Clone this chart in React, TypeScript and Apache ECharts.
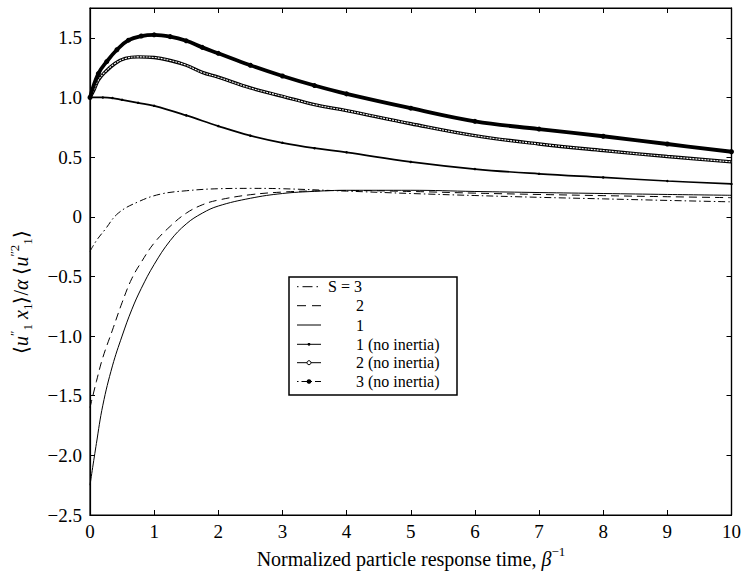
import React, { useEffect, useRef } from "react";
import * as echarts from "echarts";

// ---- data ----
const s3X = [0, 0.1, 0.23, 0.44, 0.75, 1.1, 1.5, 2.0, 2.5, 3.0, 4.0, 5.0, 6.0, 7.0, 8.0, 9.0, 10];
const s3Y = [-0.29, -0.2, -0.11, 0.03, 0.125, 0.19, 0.218, 0.235, 0.238, 0.235, 0.215, 0.195, 0.178, 0.163, 0.15, 0.137, 0.125];

const s2X = [0, 0.1, 0.2, 0.35, 0.5, 0.65, 0.8, 1.0, 1.25, 1.5, 1.75, 2.0, 2.5, 3.0, 3.5, 4.0, 5.0, 6.0, 7.0, 8.0, 9.0, 10];
const s2Y = [-1.6, -1.38, -1.18, -0.95, -0.72, -0.52, -0.38, -0.22, -0.08, 0.03, 0.1, 0.14, 0.185, 0.207, 0.217, 0.22, 0.212, 0.198, 0.187, 0.177, 0.168, 0.16];

const s1X = [0, 0.1, 0.2, 0.35, 0.5, 0.65, 0.8, 1.0, 1.25, 1.5, 1.75, 2.0, 2.5, 3.0, 3.5, 4.0, 5.0, 6.0, 7.0, 8.0, 9.0, 10];
const s1Y = [-2.25, -1.9, -1.58, -1.25, -1.0, -0.78, -0.6, -0.4, -0.2, -0.06, 0.03, 0.09, 0.155, 0.195, 0.213, 0.222, 0.222, 0.212, 0.203, 0.195, 0.187, 0.18];

const ni1X = [0, 0.2, 0.35, 0.5, 0.75, 1.0, 1.5, 2.0, 2.5, 3.0, 3.5, 4.0, 5.0, 6.0, 7.0, 8.0, 9.0, 10];
const ni1Y = [1.0, 1.0, 0.995, 0.98, 0.955, 0.93, 0.85, 0.76, 0.68, 0.62, 0.575, 0.54, 0.46, 0.4, 0.36, 0.33, 0.3, 0.275];

const ni2X = [0, 0.06, 0.13, 0.23, 0.39, 0.55, 0.75, 1.0, 1.25, 1.5, 1.75, 2.0, 2.5, 3.0, 3.5, 4.0, 5.0, 6.0, 7.0, 8.0, 9.0, 10];
const ni2Y = [1.0, 1.06, 1.145, 1.21, 1.285, 1.327, 1.34, 1.335, 1.31, 1.27, 1.21, 1.17, 1.08, 1.01, 0.94, 0.89, 0.78, 0.68, 0.61, 0.555, 0.505, 0.46];

const ni3X = [0, 0.13, 0.26, 0.42, 0.6, 0.8, 1.0, 1.25, 1.5, 1.75, 2.0, 2.5, 3.0, 3.5, 4.0, 5.0, 6.0, 7.0, 8.0, 9.0, 10];
const ni3Y = [1.0, 1.2, 1.3, 1.4, 1.48, 1.515, 1.525, 1.51, 1.475, 1.42, 1.37, 1.27, 1.18, 1.1, 1.03, 0.91, 0.8, 0.735, 0.675, 0.61, 0.545];

const legendLabels = ["S = 3", "2", "1", "1 (no inertia)", "2 (no inertia)", "3 (no inertia)"];
const xTitle = "Normalized particle response time, ";

const zip = (xs: number[], ys: number[]) => xs.map((x, i) => [x, ys[i]]);

const FONT = "Liberation Serif";

export default function App() {
  const ref = useRef<HTMLDivElement>(null);
  useEffect(() => {
    if (!ref.current) return;
    const chart = echarts.init(ref.current, undefined, { renderer: "svg" });

    const axisCommon = {
      type: "value" as const,
      axisLine: { show: true, onZero: false, lineStyle: { color: "#000", width: 1.2 } },
      axisTick: { show: true, inside: true, length: 5, lineStyle: { color: "#000", width: 1 } },
      splitLine: { show: false },
    };

    const base = (name: string, data: number[][]) => ({
      name,
      type: "line" as const,
      data,
      smooth: 0.4,
      xAxisIndex: 0,
      yAxisIndex: 0,
      silent: true,
    });

    const rowsY = [286.7, 305.7, 325, 344.3, 362.7, 381.5];
    const lx0 = 297, lx1 = 321;
    const legendEls: any[] = [
      {
        type: "rect",
        shape: { x: 289, y: 277, width: 168, height: 118 },
        style: { fill: "#fff", stroke: "#000", lineWidth: 1.5 },
        z: 100,
      },
    ];
    const dashes: any[] = [[1.5, 4, 10, 4], [9, 6], null, null, null, [1.5, 3, 6, 3]];
    rowsY.forEach((y, i) => {
      legendEls.push({
        type: "line",
        shape: { x1: lx0, y1: y, x2: lx1, y2: y },
        style: { stroke: "#000", lineWidth: 1, lineDash: dashes[i] || undefined },
        z: 101,
      });
      if (i === 3) {
        legendEls.push({ type: "circle", shape: { cx: 309, cy: y, r: 1.4 }, style: { fill: "#000" }, z: 102 });
      }
      if (i === 4) {
        legendEls.push({ type: "circle", shape: { cx: 309, cy: y, r: 2 }, style: { fill: "#fff", stroke: "#000", lineWidth: 1 }, z: 102 });
      }
      if (i === 5) {
        legendEls.push({ type: "circle", shape: { cx: 309, cy: y, r: 2.3 }, style: { fill: "#000" }, z: 102 });
      }
      legendEls.push({
        type: "text",
        x: i === 0 ? 328 : 356,
        y,
        style: {
          text: legendLabels[i],
          fontFamily: FONT,
          fontSize: 16,
          fill: "#000",
          verticalAlign: "middle",
          align: "left",
        },
        z: 102,
      });
    });

    const option: any = {
      animation: false,
      backgroundColor: "#fff",
      textStyle: { fontFamily: FONT },
      grid: { left: 90, right: 12, top: 8, bottom: 61, show: true, borderColor: "#000", borderWidth: 1.2 },
      xAxis: [
        {
          ...axisCommon,
          min: 0,
          max: 10,
          interval: 1,
          position: "bottom",
          axisLabel: { color: "#000", fontFamily: FONT, fontSize: 19, margin: 7 },
        },
        {
          ...axisCommon,
          min: 0,
          max: 10,
          interval: 1,
          position: "top",
          axisLabel: { show: false },
        },
      ],
      yAxis: [
        {
          ...axisCommon,
          min: -2.5,
          max: 1.75,
          interval: 0.5,
          position: "left",
          axisLabel: {
            color: "#000",
            fontFamily: FONT,
            fontSize: 19,
            margin: 8,
            formatter: (v: number) =>
              Math.abs(v - 1.75) < 1e-6
                ? ""
                : Math.abs(v) < 1e-9
                ? "0"
                : (v < 0 ? "\u2212" : "") + Math.abs(v).toFixed(1),
          },
        },
        {
          ...axisCommon,
          min: -2.5,
          max: 1.75,
          interval: 0.5,
          position: "right",
          axisLabel: { show: false },
        },
      ],
      series: [
        {
          ...base("S = 3", zip(s3X, s3Y)),
          showSymbol: false,
          symbol: "none",
          lineStyle: { color: "#000", width: 1, type: [7, 3, 1.5, 3] },
        },
        {
          ...base("2", zip(s2X, s2Y)),
          showSymbol: false,
          symbol: "none",
          lineStyle: { color: "#000", width: 1, type: [8, 5] },
        },
        {
          ...base("1", zip(s1X, s1Y)),
          showSymbol: false,
          symbol: "none",
          lineStyle: { color: "#000", width: 1, type: "solid" },
        },
        {
          ...base("1 (no inertia)", zip(ni1X, ni1Y)),
          showSymbol: true,
          symbol: "circle",
          symbolSize: 2.5,
          itemStyle: { color: "#000" },
          lineStyle: { color: "#000", width: 1.7 },
        },
        {
          ...base("2 (no inertia)", zip(ni2X, ni2Y)),
          showSymbol: false,
          symbol: "none",
          lineStyle: { color: "#000", width: 3.4 },
        },
        {
          ...base("2 (no inertia) inner", zip(ni2X, ni2Y)),
          showSymbol: false,
          symbol: "none",
          lineStyle: { color: "#fff", width: 1.1, type: [2, 1] },
        },
        {
          ...base("3 (no inertia)", zip(ni3X, ni3Y)),
          showSymbol: true,
          symbol: "circle",
          symbolSize: 5,
          itemStyle: { color: "#000" },
          lineStyle: { color: "#000", width: 3.8 },
        },
      ],
      graphic: [
        ...legendEls,
        {
          type: "text",
          x: 411,
          y: 557,
          style: {
            text: `{n|${xTitle}}{i|β}{sp|−1}`,
            align: "center",
            verticalAlign: "middle",
            fill: "#000",
            rich: {
              n: { fontFamily: FONT, fontSize: 20, lineHeight: 24, verticalAlign: "bottom", color: "#000" },
              i: { fontFamily: FONT, fontSize: 20, fontStyle: "italic", lineHeight: 24, verticalAlign: "bottom", color: "#000" },
              sp: { fontFamily: FONT, fontSize: 13, lineHeight: 24, verticalAlign: "top", color: "#000" },
            },
          },
        },
        {
          type: "text",
          x: 21,
          y: 292,
          rotation: Math.PI / 2,
          style: {
            text: "{n|⟨}{i|u}{sp|″}{sb|1}{i| x}{sb|1}{n|⟩/}{i|α}{n| ⟨}{i|u}{sp|″2}{sb|1}{n|⟩}",
            align: "center",
            verticalAlign: "middle",
            fill: "#000",
            rich: {
              n: { fontFamily: FONT, fontSize: 20, lineHeight: 26, verticalAlign: "middle", color: "#000" },
              i: { fontFamily: FONT, fontSize: 20, fontStyle: "italic", lineHeight: 26, verticalAlign: "middle", color: "#000" },
              sp: { fontFamily: FONT, fontSize: 13, lineHeight: 26, verticalAlign: "top", color: "#000" },
              sb: { fontFamily: FONT, fontSize: 13, lineHeight: 26, verticalAlign: "bottom", color: "#000" },
            },
          },
        },
      ],
    };

    chart.setOption(option);
    return () => chart.dispose();
  }, []);

  return <div ref={ref} style={{ width: 744, height: 576, position: "absolute", left: 0, top: 0 }} />;
}
